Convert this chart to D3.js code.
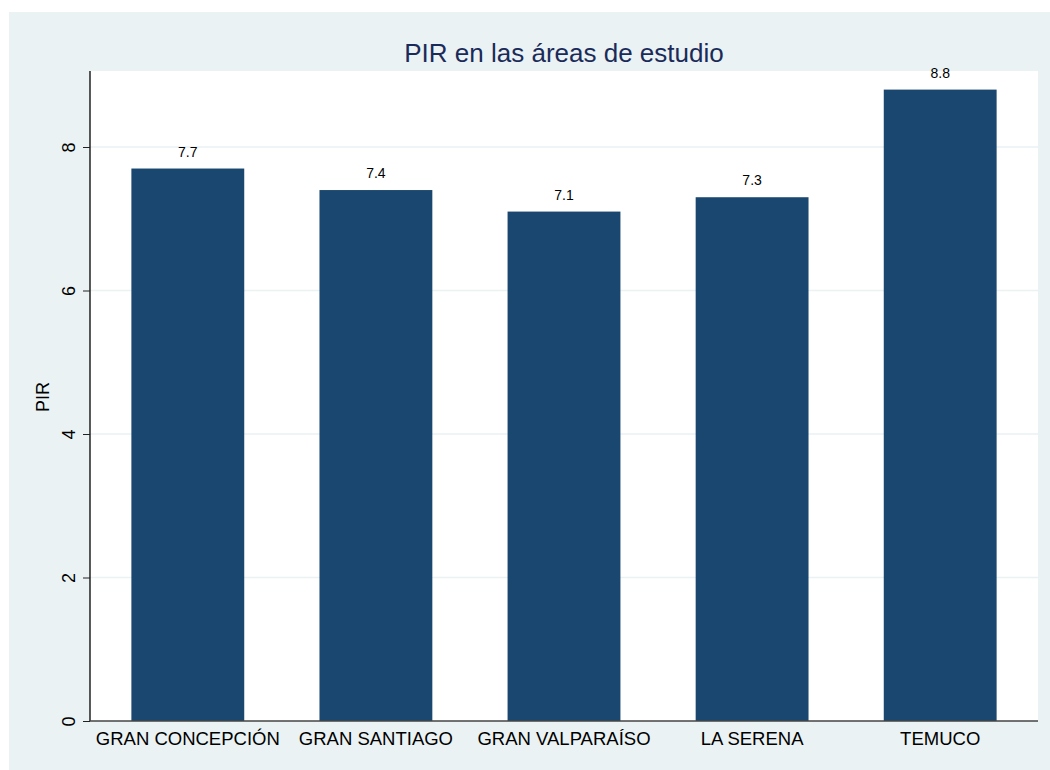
<!DOCTYPE html>
<html lang="es">
<head>
<meta charset="utf-8">
<title>PIR</title>
<script src="https://d3js.org/d3.v7.min.js"></script>
<style>
  body { margin: 0; background: #fff; }
  text { font-family: "Liberation Sans", Arial, sans-serif; }
</style>
</head>
<body>
<div id="viz"></div>
<script>
// data
const areas = ["GRAN CONCEPCIÓN", "GRAN SANTIAGO", "GRAN VALPARAÍSO", "LA SERENA", "TEMUCO"];
const pir = [7.7, 7.4, 7.1, 7.3, 8.8];
const yTicks = [0, 2, 4, 6, 8];

const W = 1050, H = 770;
const plot = {left: 90, right: 1038, top: 71, bottom: 721};

const svg = d3.select("#viz").append("svg")
    .attr("width", W)
    .attr("height", H);

// outer graph region
svg.append("rect")
    .attr("x", 9).attr("y", 12)
    .attr("width", W - 9).attr("height", H - 12)
    .attr("fill", "#eaf2f3");

// inner plot region
svg.append("rect")
    .attr("x", plot.left).attr("y", plot.top)
    .attr("width", plot.right - plot.left).attr("height", plot.bottom - plot.top)
    .attr("fill", "#fff");

const x = d3.scaleBand()
    .domain(areas)
    .range([plot.left, plot.right])
    .paddingInner(0.4)
    .paddingOuter(0.22);

const y = d3.scaleLinear()
    .domain([0, 8])
    .range([plot.bottom, 147]);

// gridlines
svg.append("g")
    .selectAll("line")
    .data(yTicks.filter(d => d > 0))
    .join("line")
    .attr("x1", plot.left).attr("x2", plot.right)
    .attr("y1", d => y(d)).attr("y2", d => y(d))
    .attr("stroke", "#eaf2f3")
    .attr("stroke-width", 1.5);

// bars
svg.append("g")
    .selectAll("rect")
    .data(areas)
    .join("rect")
    .attr("x", d => x(d))
    .attr("width", x.bandwidth())
    .attr("y", (d, i) => y(pir[i]))
    .attr("height", (d, i) => y(0) - y(pir[i]))
    .attr("fill", "#1a476f");

// value labels
svg.append("g")
    .selectAll("text")
    .data(areas)
    .join("text")
    .attr("x", d => x(d) + x.bandwidth() / 2)
    .attr("y", (d, i) => y(pir[i]) - 12)
    .attr("text-anchor", "middle")
    .attr("font-size", 14)
    .attr("fill", "#000")
    .text((d, i) => pir[i].toFixed(1));

// y axis
const yAxis = svg.append("g")
    .attr("transform", `translate(${plot.left},0)`)
    .call(d3.axisLeft(y).tickValues(yTicks).tickSize(7).tickPadding(0).tickFormat(d3.format("d")));
yAxis.select(".domain")
    .attr("d", `M0,${plot.top}V${plot.bottom}`)
    .attr("stroke", "#000")
    .attr("stroke-width", 1.3);
yAxis.selectAll(".tick line").attr("stroke", "#222");
yAxis.selectAll(".tick text")
    .attr("font-size", 18)
    .attr("fill", "#000")
    .attr("font-family", "Liberation Sans, Arial, sans-serif")
    .attr("transform", "translate(-21,0) rotate(-90)")
    .attr("text-anchor", "middle")
    .attr("x", 0)
    .attr("dy", "0.35em");

// x axis
const xAxis = svg.append("g")
    .attr("transform", `translate(0,${plot.bottom})`)
    .call(d3.axisBottom(x).tickSize(0).tickPadding(11));
xAxis.select(".domain")
    .attr("d", `M${plot.left},0H${plot.right}`)
    .attr("stroke", "#444")
    .attr("stroke-width", 1.5);
xAxis.selectAll(".tick text")
    .attr("font-size", 18.5)
    .attr("fill", "#000")
    .attr("font-family", "Liberation Sans, Arial, sans-serif");

// y axis title
svg.append("text")
    .attr("transform", "translate(49,397) rotate(-90)")
    .attr("text-anchor", "middle")
    .attr("font-size", 18)
    .attr("fill", "#000")
    .text("PIR");

// title
svg.append("text")
    .attr("x", (plot.left + plot.right) / 2)
    .attr("y", 62)
    .attr("text-anchor", "middle")
    .attr("font-size", 26)
    .attr("fill", "#1a2b5a")
    .text("PIR en las áreas de estudio");
</script>
</body>
</html>
